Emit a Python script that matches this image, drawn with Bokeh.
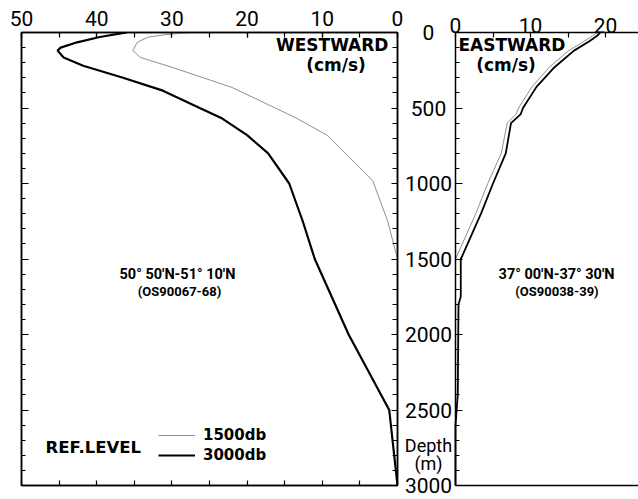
from bokeh.plotting import figure
from bokeh.models import (Range1d, LinearAxis, SingleIntervalTicker, Label,
                          Legend, LegendItem, CustomJSTickFormatter)
from bokeh.layouts import row
from bokeh.embed import file_html
from bokeh.resources import INLINE

# ---------------- data ----------------
# Westward panel (50°50'N-51°10'N, OS90067-68)
west_depth_3000 = [0, 30, 65, 100, 120, 165, 220, 300, 385, 500, 570, 680, 800,
                   1000, 1250, 1500, 2000, 2500, 3000]
west_speed_3000 = [36.0, 39.6, 42.6, 44.8, 45.2, 44.4, 41.8, 36.5, 31.2, 26.3,
                   23.3, 20.0, 17.2, 14.4, 12.6, 11.0, 6.5, 1.1, 0.0]
west_depth_1500 = [0, 15, 31, 65, 120, 165, 230, 364, 563, 682, 980, 1250, 1500]
west_speed_1500 = [27.5, 31.0, 33.2, 34.6, 35.2, 34.2, 30.0, 22.0, 13.6, 9.3,
                   3.3, 1.3, 0.0]

# Eastward panel (37°00'N-37°30'N, OS90038-39)
east_depth_3000 = [0, 25, 60, 120, 230, 360, 500, 540, 600, 800, 1000, 1200,
                   1480, 1500, 1750, 1800, 2400, 2600, 3000]
east_speed_3000 = [19.3, 18.8, 17.8, 15.8, 13.2, 10.8, 9.0, 8.7, 7.4, 6.7, 5.0,
                   3.4, 0.9, 0.7, 0.7, 0.4, 0.3, 0.0, 0.0]
east_depth_1500 = [0, 25, 60, 120, 230, 360, 500, 540, 600, 800, 1000, 1200, 1500]
east_speed_1500 = [18.9, 18.2, 17.1, 15.1, 12.5, 10.2, 8.4, 8.1, 6.9, 6.1, 4.3,
                   2.7, 0.0]

east_speed_ticks = [0, 10, 20]
east_speed_tick_labels = ["0", "10", "20"]
depth_ticks = [0, 500, 1000, 1500, 2000, 2500, 3000]
depth_tick_labels = ["0", "500", "1000", "1500", "2000", "2500", "3000"]

series_labels = ["1500db", "3000db"]
panel_titles = ["WESTWARD", "EASTWARD"]
unit_label = "(cm/s)"
depth_title = ["Depth", "(m)"]
ref_level = "REF.LEVEL"
station_west = ["50° 50′N-51° 10′N", "(OS90067-68)"]
station_east = ["37° 00′N-37° 30′N", "(OS90038-39)"]

GREY = "#8f8f8f"
TICK_FONT = "Roboto"
TICK_SIZE = "21px"
DEPTH_MAX = 3000
PX_PER_M = 453 / 3000.0          # frame height / depth span
PX_PER_CMS_E = 7.5               # eastward panel horizontal scale


def blank():
    return CustomJSTickFormatter(code="return ''")


def style_axis(ax, labels=False, tick_in=5, minor_in=0, standoff=0):
    ax.major_tick_in = tick_in
    ax.major_tick_out = 0
    ax.minor_tick_in = minor_in
    ax.minor_tick_out = 0
    ax.axis_line_color = "black"
    ax.axis_line_width = 1.5
    ax.major_tick_line_color = "black" if tick_in else None
    ax.minor_tick_line_color = "black" if minor_in else None
    ax.major_tick_line_width = 1.2
    ax.minor_tick_line_width = 1.2
    ax.major_label_standoff = standoff
    if labels:
        ax.major_label_text_font = TICK_FONT
        ax.major_label_text_font_size = TICK_SIZE
        ax.major_label_text_color = "black"
    else:
        ax.formatter = blank()
        ax.major_label_text_font_size = "1px"


def text(p, x, y, t, font, size, align="center", baseline="alphabetic",
         bold=False):
    p.add_layout(Label(x=x, y=y, text=t, text_font=font, text_font_size=size,
                       text_align=align, text_baseline=baseline,
                       text_font_style="bold" if bold else "normal",
                       text_color="black"))


# ---------------- left (westward) panel ----------------
p1 = figure(width=404, height=499, x_range=Range1d(50, 0),
            y_range=Range1d(DEPTH_MAX, 0), x_axis_location="above",
            output_backend="svg", toolbar_location=None,
            min_border_left=21, min_border_right=7, min_border_top=32,
            min_border_bottom=14)
p1.frame_align = False
p1.grid.visible = False
p1.outline_line_color = "black"
p1.outline_line_width = 1.5
p1.background_fill_color = "white"
p1.border_fill_color = "white"

top1 = p1.xaxis[0]
top1.ticker = SingleIntervalTicker(interval=10, num_minor_ticks=2)
style_axis(top1, labels=True, tick_in=5, minor_in=5, standoff=7)

bot1 = LinearAxis(ticker=SingleIntervalTicker(interval=5, num_minor_ticks=0))
style_axis(bot1, tick_in=5)
p1.add_layout(bot1, "below")

left1 = p1.yaxis[0]
left1.ticker = SingleIntervalTicker(interval=500, num_minor_ticks=5)
style_axis(left1, tick_in=7, minor_in=4)

right1 = LinearAxis(ticker=SingleIntervalTicker(interval=500, num_minor_ticks=5))
style_axis(right1, tick_in=6, minor_in=5)
p1.add_layout(right1, "right")

r_w1500 = p1.line(west_speed_1500, west_depth_1500, line_color=GREY,
                  line_width=1)
r_w3000 = p1.line(west_speed_3000, west_depth_3000, line_color="black",
                  line_width=2.2)

text(p1, 1.2, 82, panel_titles[0], "DejaVu Sans", "17px", align="right",
     bold=True)
text(p1, 8.18, 212, unit_label, "DejaVu Sans", "17px", bold=True)
text(p1, 29.26, 1600, station_west[0], "Roboto", "14.5px", bold=True)
text(p1, 28.99, 1716, station_west[1], "Roboto", "13px", bold=True)
text(p1, 46.8, 2750, ref_level, "DejaVu Sans", "16.5px", align="left",
     bold=True)

legend = Legend(items=[LegendItem(label=series_labels[0], renderers=[r_w1500]),
                       LegendItem(label=series_labels[1], renderers=[r_w3000])],
                location=(137, 20), padding=0, margin=0, spacing=0,
                glyph_width=37, glyph_height=20, label_height=20,
                label_standoff=8, border_line_color=None,
                background_fill_alpha=0, label_text_font="DejaVu Sans",
                label_text_font_size="15px", label_text_font_style="bold",
                label_text_color="black")
p1.add_layout(legend)

# ---------------- right (eastward) panel ----------------
# The frame covers (nearly) the whole canvas so that the centred depth labels
# between the panels can be drawn; axes are pinned at speed 0 / depth 0 / 3000.
P2_W, P2_H = 234, 499
B_TOP, B_BOT = 4, 4     # figure borders
ZERO_X = 51             # px from canvas left to speed 0
TOP_Y, BOT_Y = 32, 485  # px of depth 0 and 3000
p2 = figure(width=P2_W, height=P2_H,
            x_range=Range1d(-ZERO_X / PX_PER_CMS_E,
                            (P2_W - ZERO_X) / PX_PER_CMS_E),
            y_range=Range1d(DEPTH_MAX + (P2_H - B_BOT - BOT_Y) / PX_PER_M,
                            -(TOP_Y - B_TOP) / PX_PER_M),
            x_axis_type=None, y_axis_type=None,
            output_backend="svg", toolbar_location=None,
            min_border_left=0, min_border_right=0, min_border_top=B_TOP,
            min_border_bottom=B_BOT)
p2.frame_align = False
p2.grid.visible = False
p2.outline_line_color = None
p2.background_fill_color = "white"
p2.border_fill_color = "white"

top2 = LinearAxis(ticker=SingleIntervalTicker(interval=5, num_minor_ticks=0),
                  fixed_location=0, bounds=(0, 40))
style_axis(top2, tick_in=5)
p2.add_layout(top2, "above")

bot2 = LinearAxis(ticker=SingleIntervalTicker(interval=5, num_minor_ticks=0),
                  fixed_location=DEPTH_MAX, bounds=(0, 40))
style_axis(bot2, tick_in=0)
p2.add_layout(bot2, "below")

left2 = LinearAxis(ticker=SingleIntervalTicker(interval=500, num_minor_ticks=5),
                   fixed_location=0, bounds=(0, DEPTH_MAX))
style_axis(left2, tick_in=7, minor_in=4)
p2.add_layout(left2, "left")

p2.line(east_speed_1500, east_depth_1500, line_color=GREY, line_width=1)
p2.line(east_speed_3000, east_depth_3000, line_color="black", line_width=1.8)

# speed tick labels above the eastward panel
TOP_LAB_Y = -46
for v, lab in zip(east_speed_ticks, east_speed_tick_labels):
    text(p2, v, TOP_LAB_Y, lab, TICK_FONT, TICK_SIZE)

text(p2, 0.4, 82, panel_titles[1], "DejaVu Sans", "17px", align="left",
     bold=True)
text(p2, 6.73, 212, unit_label, "DejaVu Sans", "17px", bold=True)
text(p2, 13.47, 1600, station_east[0], "Roboto", "14.5px", bold=True)
text(p2, 13.53, 1716, station_east[1], "Roboto", "13px", bold=True)

# depth tick labels, centred between the two panels
LAB_X = -3.6
for d, lab in zip(depth_ticks, depth_tick_labels):
    text(p2, LAB_X, d, lab, TICK_FONT, TICK_SIZE, baseline="middle")
text(p2, LAB_X, 2735, depth_title[0], "Roboto", "18px")
text(p2, LAB_X, 2855, depth_title[1], "Roboto", "18px")

layout = row(p1, p2, spacing=0)
open("out.html", "w").write(file_html(layout, INLINE))
